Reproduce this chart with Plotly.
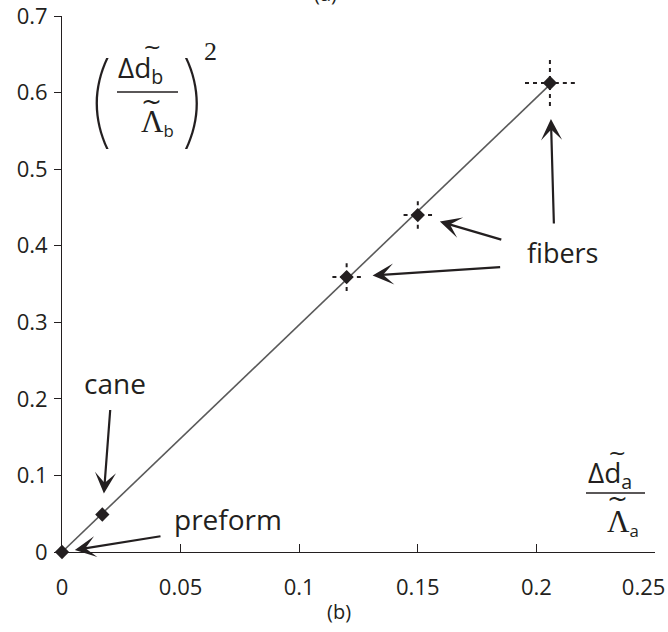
import plotly.graph_objects as go
import numpy as np

# ---- data ----
x_vals = [0.0, 0.017, 0.120, 0.150, 0.2057]
y_vals = [0.0, 0.049, 0.359, 0.440, 0.6125]
x_err = [0.0, 0.0, 0.006, 0.006, 0.0105]
y_err = [0.0, 0.0, 0.018, 0.018, 0.030]
x_ticks = [0, 0.05, 0.1, 0.15, 0.2, 0.25]
x_ticktext = ["0", "0.05", "0.1", "0.15", "0.2", "0.25\u00a0\u00a0\u00a0\u00a0"]
y_ticks = [0, 0.1, 0.2, 0.3, 0.4, 0.5, 0.6, 0.7]
y_ticktext = ["0", "0.1", "0.2", "0.3", "0.4", "0.5", "0.6", "0.7"]

W, H = 668, 632
ML, MR, MT, MB = 62, 13, 16, 80
PW, PH = W - ML - MR, H - MT - MB
INK = "#231f20"
SANS = "Open Sans"
SERIF = "Liberation Serif"


def P(px, py):
    return (px - ML) / PW, (H - MB - py) / PH


fig = go.Figure()

# trendline through origin (least squares from the data)
xa, ya = np.array(x_vals), np.array(y_vals)
slope = float((xa * ya).sum() / (xa * xa).sum())
fig.add_trace(go.Scatter(x=[0, max(x_vals)], y=[0, slope * max(x_vals)], mode="lines",
                         line=dict(color="#5a5a5a", width=1.6), hoverinfo="skip"))

# dashed error bars (drawn outer end -> centre so dashes start at the tips)
for xv, yv, ex, ey in zip(x_vals, y_vals, x_err, y_err):
    if ex <= 0 and ey <= 0:
        continue
    for sx, sy in [(xv - ex, yv), (xv + ex, yv), (xv, yv - ey), (xv, yv + ey)]:
        fig.add_trace(go.Scatter(x=[sx, xv], y=[sy, yv], mode="lines",
                                 line=dict(color=INK, width=2, dash="4px,4px"),
                                 hoverinfo="skip", cliponaxis=False))

fig.add_trace(go.Scatter(x=x_vals, y=y_vals, mode="markers",
                         marker=dict(symbol="diamond", size=11, color=INK),
                         cliponaxis=False))

ann = []


def txt(text, px, py, size, family=SANS, xanchor="center", weight=None):
    x, y = P(px, py)
    f = dict(family=family, size=size, color=INK)
    if weight is not None:
        f["weight"] = weight
    ann.append(dict(text=text, x=x, y=y, xref="paper", yref="paper", showarrow=False,
                    xanchor=xanchor, yanchor="middle", font=f, borderpad=0))


def arrow(i, ax, ay, standoff):
    ann.append(dict(text="", x=x_vals[i], y=y_vals[i], xref="x", yref="y",
                    ax=ax, ay=ay, showarrow=True, arrowhead=3, arrowsize=1.6,
                    arrowwidth=2.2, arrowcolor=INK, standoff=standoff))


arrow(3, 85, 25, 23)
arrow(2, 155, -10, 26)
arrow(4, 4, 142, 36)
arrow(1, 8, -106, 21)
arrow(0, 100, -16, 13)

txt("fibers", 562, 252, 27)
txt("cane", 115, 383, 28)
txt("preform", 228, 519, 28)
txt("(a)", 325, -6, 20)
txt("(b)", 339, 611, 20)

LAM = "<span style='font-family:Liberation Serif;font-size:31px'>Λ</span>"

# y label: (Δd~_b / Λ~_b)^2
txt("(", 100, 98, 100, family="Inter", weight=100)
txt(")", 194, 98, 100, family="Inter", weight=100)
txt("2", 210, 52, 26, family=SERIF)
txt("Δd<sub>b</sub>", 117, 69, 28, xanchor="left")
txt("~", 152, 46, 22, family="DejaVu Sans")
txt(LAM + "<sub>b</sub>", 140, 123, 24, xanchor="left")
txt("~", 151, 101, 25, family="DejaVu Sans")

# x label: Δd~_a / Λ~_a
txt("Δd<sub>a</sub>", 587, 474, 28, xanchor="left")
txt("~", 617, 452, 22, family="DejaVu Sans")
txt(LAM + "<sub>a</sub>", 606, 523, 24, xanchor="left")
txt("~", 617, 498, 25, family="DejaVu Sans")

shapes = []
for (x0, x1, yy) in [(117, 178, 92), (586, 645, 493)]:
    a0, b0 = P(x0, yy)
    a1, _ = P(x1, yy)
    shapes.append(dict(type="line", xref="paper", yref="paper", x0=a0, x1=a1, y0=b0, y1=b0,
                       line=dict(color=INK, width=1.6)))

fig.update_layout(
    width=W, height=H, margin=dict(l=ML, r=MR, t=MT, b=MB, autoexpand=False),
    paper_bgcolor="white", plot_bgcolor="white", showlegend=False,
    annotations=ann, shapes=shapes,
    xaxis=dict(range=[0, 0.25], tickvals=x_ticks, ticktext=x_ticktext, ticks="inside",
               ticklen=8, tickcolor=INK, showline=True, linecolor=INK, linewidth=1,
               showgrid=False, zeroline=False, ticklabelstandoff=16,
               ticklabeloverflow="allow", automargin=False,
               tickfont=dict(family=SANS, size=22, color=INK)),
    yaxis=dict(range=[0, 0.7], tickvals=y_ticks, ticktext=y_ticktext, ticks="outside",
               ticklen=7, tickcolor=INK, showline=True, linecolor=INK, linewidth=1,
               showgrid=False, zeroline=False, ticklabelstandoff=2,
               ticklabeloverflow="allow", automargin=False,
               tickfont=dict(family=SANS, size=22, color=INK)),
)

fig.write_html("out.html")
